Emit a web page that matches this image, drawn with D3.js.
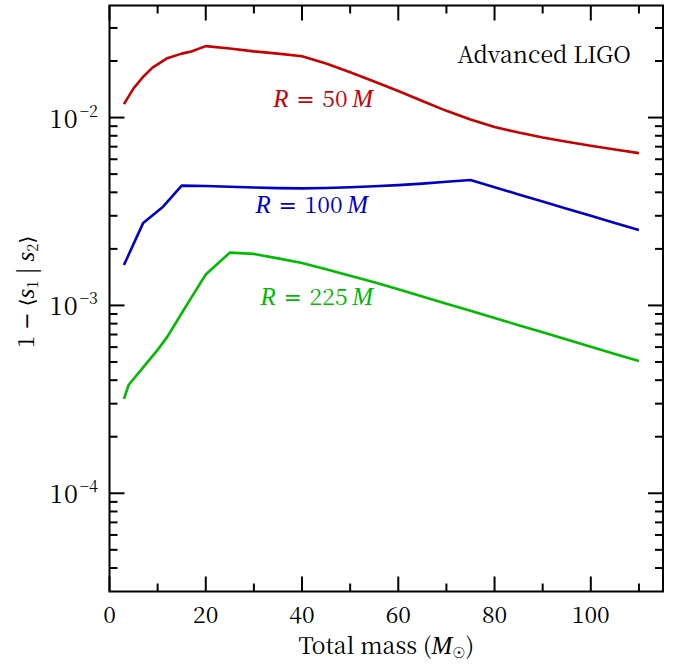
<!DOCTYPE html>
<html>
<head>
<meta charset="utf-8">
<script src="https://cdn.jsdelivr.net/npm/d3@7"></script>
<style>
  html, body { margin: 0; padding: 0; background: #fff; }
  svg { display: block; }
</style>
</head>
<body>
<svg id="chart" width="676" height="665"></svg>
<script>
// ---- data ----
const massR50 = [3, 5, 7, 9, 10, 12, 15, 17, 20, 25, 30, 35, 40, 45, 50, 55, 60, 65, 70, 75, 80, 85, 90, 95, 100, 105, 110];
const mismatchR50 = [0.0118, 0.0143, 0.0165, 0.0185, 0.0192, 0.0207, 0.0219, 0.0225, 0.0240, 0.0233, 0.0225, 0.0219, 0.0212, 0.01941, 0.01742, 0.01556, 0.01384, 0.01225, 0.01086, 0.00977, 0.00891, 0.00832, 0.00783, 0.00743, 0.00708, 0.00676, 0.00647];

const massR100 = [3, 7, 11, 15, 20, 25, 30, 35, 40, 45, 50, 55, 60, 65, 70, 75, 80, 85, 90, 95, 100, 105, 110];
const mismatchR100 = [0.00164, 0.00275, 0.00333, 0.00434, 0.00432, 0.00428, 0.00424, 0.00421, 0.00420, 0.00422, 0.00426, 0.00431, 0.00437, 0.00445, 0.00455, 0.00465, 0.00426, 0.00390, 0.003575, 0.003275, 0.00300, 0.002748, 0.00252];

const massR225 = [3, 4, 7, 10, 12, 15, 17, 20, 25, 30, 35, 40, 45, 50, 55, 60, 65, 70, 75, 80, 85, 90, 95, 100, 105, 110];
const mismatchR225 = [0.000318, 0.000378, 0.000468, 0.00058, 0.00068, 0.000908, 0.00110, 0.00146, 0.00191, 0.00188, 0.00178, 0.00168, 0.00156, 0.00144, 0.00133, 0.001218, 0.001116, 0.001022, 0.000936, 0.000857, 0.000785, 0.000719, 0.000658, 0.000603, 0.000552, 0.000506];

const seriesNames = ["50", "100", "225"];
const xMajorTicks = [0, 20, 40, 60, 80, 100];
const xMinorTicks = [10, 30, 50, 70, 90, 110];
const yMajorTicks = [1e-4, 1e-3, 1e-2];
const yMajorExponents = ["\u22124", "\u22123", "\u22122"];
const yMinorTicks = [4e-5, 5e-5, 6e-5, 7e-5, 8e-5, 9e-5,
  2e-4, 3e-4, 4e-4, 5e-4, 6e-4, 7e-4, 8e-4, 9e-4,
  2e-3, 3e-3, 4e-3, 5e-3, 6e-3, 7e-3, 8e-3, 9e-3,
  2e-2, 3e-2];
const xDomain = [0, 115];
const yDomain = [3e-5, 3.95e-2];

// ---- layout ----
const UPRIGHT = "'Noto Serif CJK SC', 'Liberation Serif', serif";
const ITALIC = "'Liberation Serif', serif";
const L = 109.5, R = 663, T = 5.5, B = 591.5;
const svg = d3.select("#chart");
const x = d3.scaleLinear().domain(xDomain).range([L, R]);
const y = d3.scaleLog().domain(yDomain).range([B, T]);

const colors = ["#c80000", "#0000c8", "#00bb00"];
const series = [
  {mass: massR50, val: mismatchR50},
  {mass: massR100, val: mismatchR100},
  {mass: massR225, val: mismatchR225}
];

svg.append("defs").append("clipPath").attr("id", "clip")
  .append("rect").attr("x", L).attr("y", T).attr("width", R - L).attr("height", B - T);

const line = d3.line().x(d => x(d[0])).y(d => y(d[1]));
const g = svg.append("g").attr("clip-path", "url(#clip)");
series.forEach((s, i) => {
  g.append("path")
    .datum(s.mass.map((m, j) => [m, s.val[j]]))
    .attr("d", line)
    .attr("fill", "none")
    .attr("stroke", colors[i])
    .attr("stroke-width", 2.6)
    .attr("stroke-linejoin", "round")
    .attr("stroke-linecap", "butt");
});

// ---- ticks (inward, mirrored) ----
const majorLen = 15, minorLen = 8;
const tg = svg.append("g").attr("stroke", "#000").attr("stroke-width", 2);
function xTicks(vals, len) {
  vals.forEach(v => {
    tg.append("line").attr("x1", x(v)).attr("x2", x(v)).attr("y1", B).attr("y2", B - len);
    tg.append("line").attr("x1", x(v)).attr("x2", x(v)).attr("y1", T).attr("y2", T + len);
  });
}
function yTicks(vals, len) {
  vals.forEach(v => {
    tg.append("line").attr("x1", L).attr("x2", L + len).attr("y1", y(v)).attr("y2", y(v));
    tg.append("line").attr("x1", R).attr("x2", R - len).attr("y1", y(v)).attr("y2", y(v));
  });
}
xTicks(xMajorTicks, majorLen);
xTicks(xMinorTicks, minorLen);
yTicks(yMajorTicks, majorLen);
yTicks(yMinorTicks, minorLen);

svg.append("rect").attr("x", L).attr("y", T).attr("width", R - L).attr("height", B - T)
  .attr("fill", "none").attr("stroke", "#000").attr("stroke-width", 2);

// ---- tick labels ----
xMajorTicks.forEach(v => {
  svg.append("text").attr("x", x(v)).attr("y", 623).attr("text-anchor", "middle")
    .style("font-family", UPRIGHT).style("font-size", "23px").attr("fill", "#000").text(v);
});
yMajorTicks.forEach((v, i) => {
  const t = svg.append("text").attr("x", 98).attr("y", y(v) + 10).attr("text-anchor", "end")
    .style("font-family", UPRIGHT).style("font-size", "25px").attr("fill", "#000");
  t.append("tspan").style("letter-spacing", "2px").text("10");
  t.append("tspan").style("font-size", "16px").attr("dy", -11).text(yMajorExponents[i]);
});

// ---- axis labels ----
const xl = svg.append("text").attr("x", (L + R) / 2).attr("y", 654).attr("text-anchor", "middle")
  .style("font-family", UPRIGHT).style("font-size", "23px").attr("fill", "#000");
xl.append("tspan").text("Total mass (");
xl.append("tspan").style("font-family", ITALIC).style("font-style", "italic").style("font-size", "25px").text("M");
xl.append("tspan").style("font-size", "15px").attr("dy", 4).style("font-family", "'DejaVu Sans'").text("\u2609");
xl.append("tspan").attr("dy", -4).text(")");

const yl = svg.append("text").attr("transform", "translate(34,292) rotate(-90)")
  .attr("text-anchor", "middle").style("font-family", UPRIGHT).style("font-size", "23px").attr("fill", "#000");
yl.append("tspan").text("1 ");
yl.append("tspan").style("font-family", "'DejaVu Sans'").style("font-size", "21px").text("\u2212");
yl.append("tspan").text(" ");
yl.append("tspan").style("font-family", "'DejaVu Serif'").style("font-size", "20px").text("\u27E8");
yl.append("tspan").style("font-family", ITALIC).style("font-style", "italic").style("font-size", "25px").text("s");
yl.append("tspan").style("font-size", "15px").attr("dy", 4).text("1");
yl.append("tspan").attr("dy", -4).text(" | ");
yl.append("tspan").style("font-family", ITALIC).style("font-style", "italic").style("font-size", "25px").text("s");
yl.append("tspan").style("font-size", "15px").attr("dy", 4).text("2");
yl.append("tspan").attr("dy", -4).style("font-family", "'DejaVu Serif'").style("font-size", "20px").text("\u27E9");

// ---- annotations ----
svg.append("text").attr("x", 631).attr("y", 63).attr("text-anchor", "end")
  .style("font-family", UPRIGHT).style("font-size", "23px").attr("fill", "#000").text("Advanced LIGO");

const labelPos = [[373, 107], [368, 213], [373, 305]];
seriesNames.forEach((n, i) => {
  const t = svg.append("text").attr("x", labelPos[i][0]).attr("y", labelPos[i][1])
    .attr("text-anchor", "end").style("font-family", UPRIGHT).style("font-size", "23px").attr("fill", colors[i]);
  t.append("tspan").style("font-family", ITALIC).style("font-style", "italic").style("font-size", "25px").attr("fill", colors[i]).text("R");
  t.append("tspan").attr("fill", colors[i]).text("\u2004");
  t.append("tspan").style("font-family", "'DejaVu Sans'").style("font-size", "22px").attr("fill", colors[i]).text("=");
  t.append("tspan").attr("fill", colors[i]).text("\u2004" + n + "\u2009");
  t.append("tspan").style("font-family", ITALIC).style("font-style", "italic").style("font-size", "25px").attr("fill", colors[i]).text("M");
});
</script>
</body>
</html>
